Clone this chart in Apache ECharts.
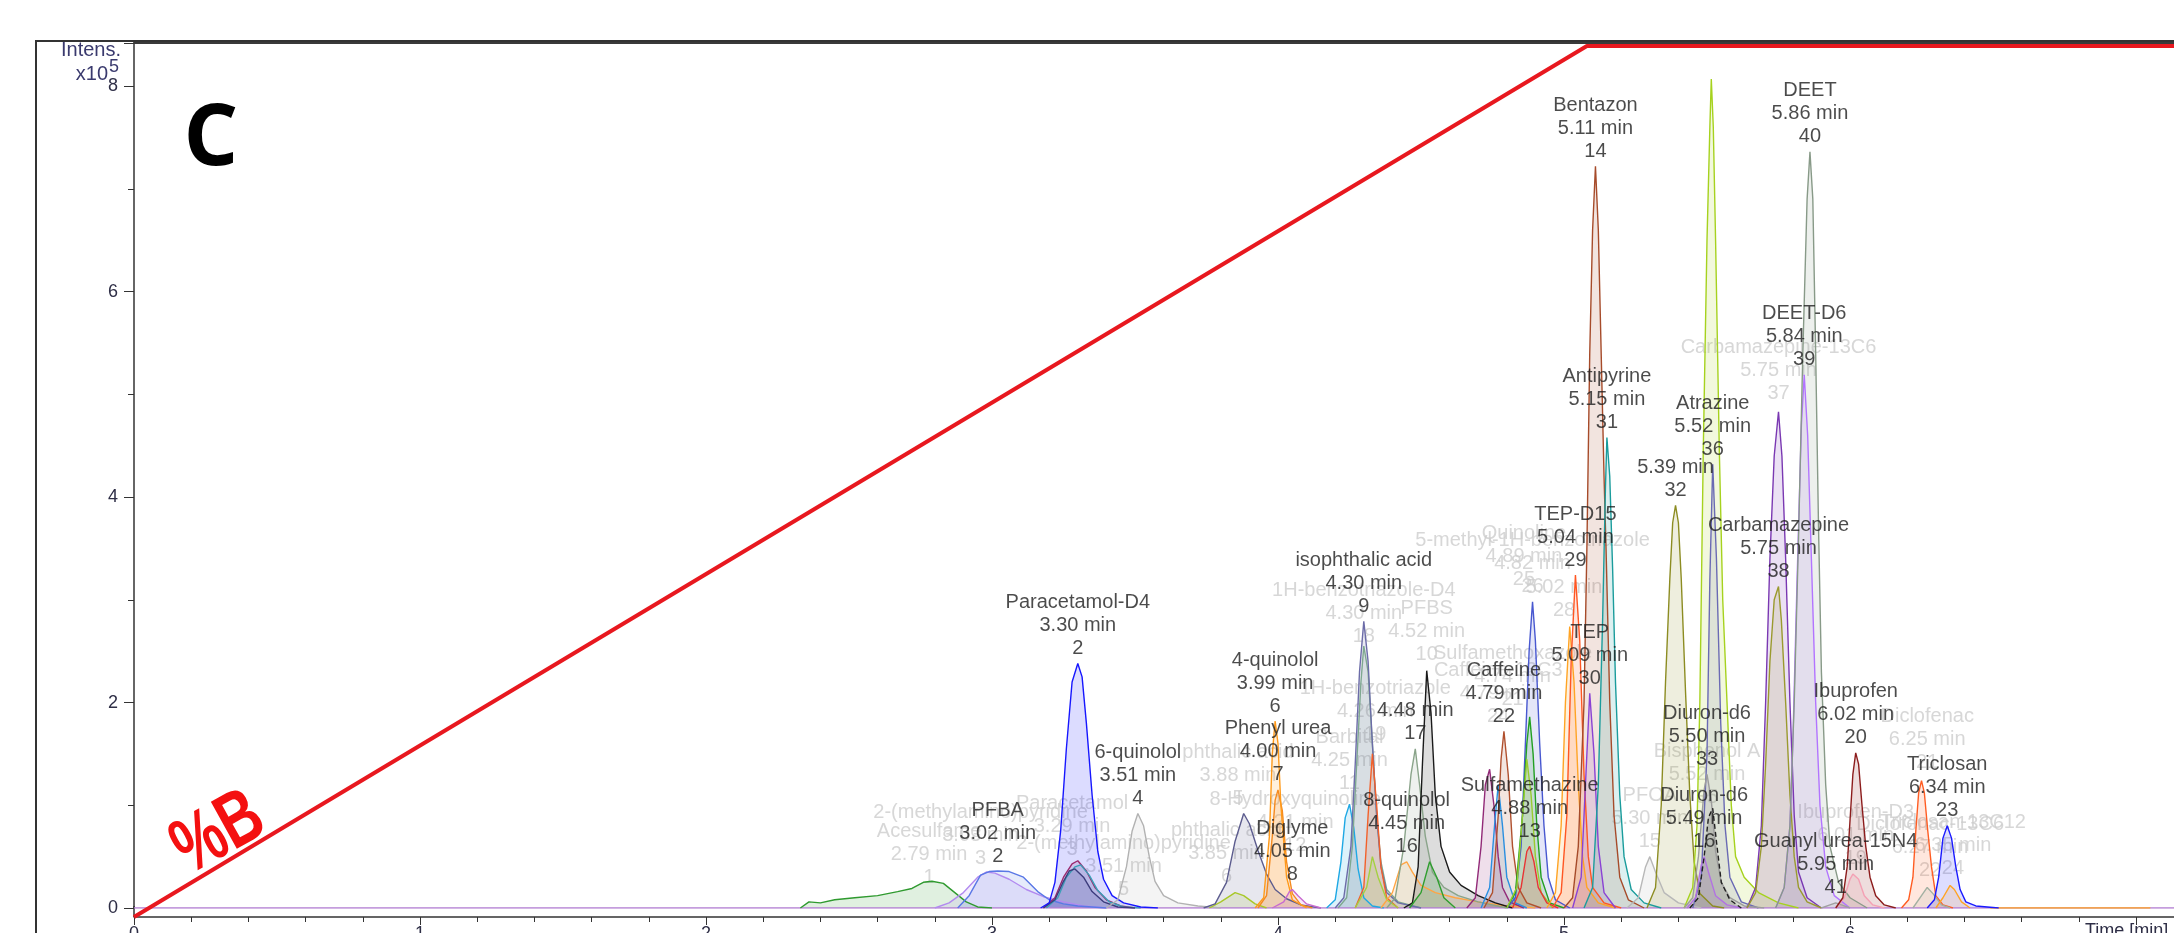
<!DOCTYPE html>
<html>
<head>
<meta charset="utf-8">
<script src="https://cdn.jsdelivr.net/npm/echarts@6.0.0/dist/echarts.min.js"></script>
<style>
  html, body { margin: 0; padding: 0; background: #fff; }
  #chart { width: 2174px; height: 933px; }
</style>
</head>
<body>
<div id="chart"></div>
<script>
// Extracted ion chromatograms, points are [retention time (min), intensity (x10^5)]
const acesulfame = [[2.33,0],[2.36,0.06],[2.40,0.05],[2.45,0.08],[2.52,0.10],[2.60,0.12],[2.67,0.16],[2.72,0.19],[2.76,0.25],[2.79,0.26],[2.83,0.24],[2.87,0.15],[2.91,0.06],[2.95,0.01],[3.00,0]];
const trace298 = [[2.80,0],[2.85,0.05],[2.90,0.15],[2.95,0.30],[2.98,0.35],[3.01,0.34],[3.06,0.28],[3.12,0.18],[3.18,0.11],[3.25,0.06],[3.32,0.02],[3.40,0]];
const pfba = [[2.88,0],[2.92,0.12],[2.96,0.32],[2.99,0.355],[3.02,0.36],[3.06,0.355],[3.11,0.30],[3.16,0.16],[3.20,0.08],[3.25,0.04],[3.30,0.02],[3.40,0]];
const trace330a = [[3.18,0],[3.22,0.10],[3.25,0.30],[3.28,0.43],[3.30,0.46],[3.33,0.36],[3.36,0.20],[3.40,0.08],[3.45,0.02],[3.50,0]];
const trace331 = [[3.19,0],[3.23,0.10],[3.26,0.30],[3.29,0.40],[3.31,0.42],[3.34,0.32],[3.37,0.17],[3.41,0.06],[3.46,0.01],[3.52,0]];
const trace329 = [[3.18,0],[3.22,0.08],[3.25,0.26],[3.27,0.36],[3.29,0.38],[3.32,0.30],[3.35,0.16],[3.39,0.06],[3.44,0.01],[3.50,0]];
const paracetamolD4 = [[3.17,0],[3.20,0.05],[3.22,0.25],[3.24,0.75],[3.26,1.55],[3.28,2.20],[3.30,2.38],[3.315,2.25],[3.33,1.80],[3.35,1.10],[3.37,0.55],[3.39,0.28],[3.42,0.12],[3.46,0.05],[3.52,0.01],[3.58,0]];
const quinolol6 = [[3.40,0],[3.44,0.08],[3.47,0.40],[3.49,0.75],[3.51,0.92],[3.53,0.80],[3.55,0.50],[3.57,0.26],[3.60,0.12],[3.65,0.05],[3.72,0.02],[3.80,0]];
const trace385 = [[3.76,0],[3.80,0.06],[3.85,0.15],[3.88,0.12],[3.92,0.04],[3.96,0]];
const phthalic = [[3.74,0],[3.78,0.04],[3.82,0.25],[3.85,0.65],[3.88,0.92],[3.90,0.82],[3.93,0.56],[3.96,0.33],[3.99,0.18],[4.03,0.09],[4.08,0.03],[4.15,0]];
const phenylUrea = [[3.93,0],[3.96,0.12],[3.98,0.70],[3.99,1.05],[4.00,1.15],[4.015,0.95],[4.03,0.45],[4.05,0.14],[4.08,0.03],[4.12,0]];
const quinolol4 = [[3.92,0],[3.95,0.10],[3.97,0.70],[3.98,1.50],[3.99,1.82],[4.00,1.60],[4.01,1.00],[4.03,0.30],[4.05,0.08],[4.10,0]];
const diglyme = [[3.98,0],[4.02,0.06],[4.04,0.16],[4.05,0.18],[4.07,0.12],[4.10,0.04],[4.15,0]];
const barbital = [[4.17,0],[4.20,0.08],[4.22,0.45],[4.235,0.88],[4.25,1.01],[4.265,0.78],[4.28,0.38],[4.30,0.10],[4.33,0.02],[4.37,0]];
const benzotriazoleD4 = [[4.21,0],[4.24,0.10],[4.26,0.60],[4.275,1.40],[4.29,2.20],[4.30,2.55],[4.315,2.30],[4.33,1.60],[4.345,0.90],[4.36,0.45],[4.38,0.18],[4.42,0.06],[4.50,0]];
const isophthalic = [[4.20,0],[4.23,0.10],[4.255,0.60],[4.27,1.40],[4.285,2.30],[4.30,2.79],[4.315,2.40],[4.33,1.60],[4.345,0.90],[4.36,0.40],[4.38,0.15],[4.42,0.05],[4.50,0]];
const trace433a = [[4.27,0],[4.30,0.20],[4.315,0.90],[4.33,1.50],[4.345,1.00],[4.36,0.40],[4.38,0.10],[4.42,0]];
const trace433b = [[4.27,0],[4.31,0.20],[4.33,0.50],[4.35,0.30],[4.38,0.08],[4.42,0]];
const quinolol8 = [[4.36,0],[4.40,0.15],[4.43,0.42],[4.45,0.45],[4.47,0.35],[4.50,0.22],[4.55,0.15],[4.62,0.10],[4.70,0.06],[4.80,0.02],[4.90,0]];
const peak17 = [[4.38,0],[4.41,0.10],[4.44,0.60],[4.465,1.30],[4.48,1.55],[4.495,1.20],[4.515,0.70],[4.54,0.35],[4.58,0.20],[4.63,0.12],[4.70,0.06],[4.80,0]];
const pfbs = [[4.44,0],[4.47,0.05],[4.49,0.40],[4.505,1.40],[4.52,2.31],[4.535,1.90],[4.55,1.10],[4.57,0.60],[4.60,0.35],[4.64,0.22],[4.70,0.12],[4.76,0.05],[4.82,0]];
const trace453 = [[4.46,0],[4.50,0.15],[4.53,0.45],[4.555,0.30],[4.58,0.10],[4.62,0]];
const trace474 = [[4.66,0],[4.69,0.10],[4.71,0.60],[4.725,1.20],[4.74,1.35],[4.755,1.00],[4.77,0.50],[4.785,0.20],[4.81,0.06],[4.86,0]];
const trace477 = [[4.71,0],[4.74,0.20],[4.76,0.90],[4.77,1.20],[4.785,0.80],[4.80,0.30],[4.83,0.05],[4.87,0]];
const caffeine = [[4.72,0],[4.75,0.15],[4.77,0.90],[4.78,1.45],[4.79,1.72],[4.805,1.30],[4.82,0.60],[4.84,0.20],[4.87,0.05],[4.92,0]];
const methylBenzotriazole = [[4.80,0],[4.83,0.10],[4.85,0.60],[4.865,1.60],[4.878,2.50],[4.89,2.98],[4.90,2.60],[4.915,1.60],[4.93,0.80],[4.945,0.30],[4.97,0.08],[5.02,0]];
const trace488 = [[4.80,0],[4.83,0.15],[4.855,0.90],[4.87,1.60],[4.88,1.86],[4.892,1.50],[4.905,0.80],[4.92,0.30],[4.95,0.05],[5.00,0]];
const trace487 = [[4.80,0],[4.835,0.20],[4.855,0.90],[4.87,1.45],[4.885,1.10],[4.90,0.50],[4.92,0.15],[4.96,0]];
const sulfamethazine = [[4.82,0],[4.85,0.20],[4.87,0.55],[4.88,0.60],[4.895,0.45],[4.91,0.20],[4.94,0.05],[4.98,0]];
const peak28 = [[4.94,0],[4.97,0.15],[4.99,0.80],[5.005,2.00],[5.02,2.74],[5.035,2.20],[5.05,1.20],[5.065,0.50],[5.08,0.20],[5.12,0.05],[5.18,0]];
const tepD15 = [[4.96,0],[4.99,0.15],[5.01,0.90],[5.025,2.40],[5.04,3.24],[5.055,2.60],[5.07,1.30],[5.085,0.50],[5.10,0.20],[5.14,0.05],[5.20,0]];
const tep = [[5.03,0],[5.06,0.30],[5.075,1.20],[5.09,2.09],[5.105,1.50],[5.12,0.60],[5.14,0.15],[5.18,0]];
const bentazon = [[5.00,0],[5.03,0.10],[5.05,0.60],[5.07,2.00],[5.08,3.50],[5.09,5.40],[5.10,6.60],[5.11,7.22],[5.12,6.60],[5.13,5.40],[5.14,4.20],[5.147,3.50],[5.16,2.00],[5.175,0.90],[5.195,0.30],[5.225,0.08],[5.28,0]];
const antipyrine = [[5.07,0],[5.10,0.20],[5.12,1.20],[5.135,2.80],[5.145,4.10],[5.15,4.58],[5.16,4.20],[5.17,3.30],[5.18,2.20],[5.195,1.10],[5.21,0.50],[5.235,0.18],[5.28,0.05],[5.34,0]];
const pfoa = [[5.22,0],[5.26,0.10],[5.285,0.40],[5.30,0.50],[5.32,0.35],[5.35,0.15],[5.40,0.05],[5.48,0]];
const peak32 = [[5.29,0],[5.32,0.20],[5.34,1.00],[5.355,2.20],[5.37,3.20],[5.38,3.75],[5.39,3.92],[5.40,3.75],[5.41,3.20],[5.425,2.10],[5.44,1.10],[5.455,0.45],[5.475,0.14],[5.52,0.02],[5.56,0]];
const trace552 = [[5.42,0],[5.45,0.20],[5.465,0.80],[5.475,2.00],[5.487,4.46],[5.50,6.50],[5.51,7.60],[5.515,8.07],[5.522,7.60],[5.53,6.50],[5.543,4.46],[5.555,3.00],[5.57,2.00],[5.585,1.00],[5.60,0.50],[5.63,0.30],[5.68,0.15],[5.75,0.05],[5.82,0]];
const atrazine = [[5.45,0],[5.48,0.30],[5.50,1.50],[5.51,3.20],[5.52,4.32],[5.533,3.40],[5.548,1.80],[5.563,0.80],[5.58,0.30],[5.62,0.06],[5.68,0]];
const diuronD6a = [[5.42,0],[5.45,0.10],[5.47,0.50],[5.49,1.15],[5.50,1.30],[5.515,1.05],[5.53,0.55],[5.55,0.25],[5.58,0.10],[5.63,0.02],[5.70,0]];
const diuronD6b = [[5.43,0],[5.46,0.10],[5.48,0.42],[5.49,0.50],[5.505,0.35],[5.53,0.12],[5.57,0.03],[5.62,0]];
const bisphenolA = [[5.44,0],[5.47,0.10],[5.49,0.50],[5.505,0.88],[5.52,0.97],[5.535,0.60],[5.55,0.25],[5.58,0.08],[5.62,0]];
const carbamazepine13C6 = [[5.64,0],[5.67,0.20],[5.69,0.80],[5.705,2.00],[5.72,3.40],[5.735,4.40],[5.75,4.83],[5.762,4.40],[5.775,3.40],[5.79,2.00],[5.805,0.90],[5.82,0.35],[5.85,0.10],[5.90,0]];
const carbamazepine = [[5.64,0],[5.67,0.15],[5.69,0.60],[5.705,1.40],[5.72,2.40],[5.735,3.00],[5.75,3.13],[5.76,2.80],[5.775,2.00],[5.79,1.10],[5.805,0.50],[5.82,0.20],[5.85,0.06],[5.90,0]];
const deetD6 = [[5.74,0],[5.77,0.20],[5.79,0.80],[5.80,1.60],[5.815,3.20],[5.83,4.70],[5.84,5.19],[5.852,4.60],[5.865,3.40],[5.88,2.00],[5.895,1.00],[5.915,0.40],[5.945,0.12],[6.00,0]];
const deet = [[5.74,0],[5.77,0.20],[5.79,0.80],[5.805,2.00],[5.82,3.60],[5.835,5.40],[5.85,6.90],[5.86,7.36],[5.87,6.90],[5.88,5.40],[5.89,3.70],[5.90,2.30],[5.915,1.20],[5.93,0.60],[5.96,0.25],[6.00,0.10],[6.06,0]];
const guanylUrea = [[5.90,0],[5.93,0.03],[5.95,0.05],[5.97,0.03],[6.00,0]];
const ibuprofenD3 = [[5.95,0],[5.98,0.10],[6.00,0.28],[6.01,0.33],[6.03,0.28],[6.05,0.12],[6.08,0.03],[6.12,0]];
const ibuprofen = [[5.95,0],[5.975,0.10],[5.99,0.40],[6.00,0.85],[6.01,1.30],[6.02,1.51],[6.03,1.40],[6.042,1.00],[6.055,0.60],[6.07,0.30],[6.09,0.12],[6.12,0.03],[6.16,0]];
const diclofenac = [[6.18,0],[6.205,0.08],[6.22,0.30],[6.23,0.75],[6.24,1.12],[6.25,1.24],[6.26,1.12],[6.272,0.75],[6.285,0.40],[6.30,0.12],[6.325,0.03],[6.36,0]];
const diclofenac13C6 = [[6.22,0],[6.25,0.12],[6.27,0.20],[6.29,0.14],[6.32,0.03],[6.35,0]];
const triclosan = [[6.27,0],[6.295,0.08],[6.31,0.30],[6.325,0.68],[6.34,0.80],[6.355,0.68],[6.37,0.40],[6.385,0.18],[6.405,0.06],[6.44,0.02],[6.52,0]];
const triclosan13C12 = [[6.30,0],[6.325,0.10],[6.35,0.22],[6.365,0.18],[6.39,0.06],[6.42,0]];

// Flat parts of the traces along the time axis
const baseline = [[0,0],[7.2,0]];
const baselineTail = [[6.49,0],[7.05,0]];

// Solvent gradient, %B against time (min)
const gradientB = [[0,0],[5.08,100],[7.2,100]];

// Axis tick labels (the one at 7 min sits under the axis title)
const yTicks = [0, 2, 4, 6, 8];
const xTicks = [0, 1, 2, 3, 4, 5, 6];

// Drawing order of the traces and their colours
const traceOrder = [acesulfame, trace298, pfba, trace330a, trace331, trace329, paracetamolD4, quinolol6,
  trace385, phthalic, phenylUrea, quinolol4, diglyme, barbital, benzotriazoleD4, isophthalic, trace433a,
  trace433b, quinolol8, peak17, pfbs, trace453, trace474, trace477, caffeine, methylBenzotriazole, trace488,
  trace487, sulfamethazine, peak28, tepD15, tep, bentazon, antipyrine, pfoa, peak32, trace552, atrazine,
  diuronD6a, diuronD6b, bisphenolA, carbamazepine13C6, carbamazepine, deetD6, deet, guanylUrea,
  ibuprofenD3, ibuprofen, diclofenac, diclofenac13C6, triclosan, triclosan13C12];
const traceColors = ['#2f9a2f', '#b28af0', '#5a78e6', '#9a2a6e', '#3aa0b8', '#3c3c7c', '#1616ff', '#b2b2b2',
  '#a8c828', '#5c5c8e', '#f58a1f', '#ff9a1a', '#c86ad0', '#1ea8e4', '#7ea890', '#6c6ca8', '#f2602a',
  '#a4d040', '#ffa544', '#8aa48a', '#1a1a1a', '#2e9e2e', '#922a78', '#2a8fe0', '#b0502e', '#4858d0', '#22a022',
  '#98cc30', '#e83434', '#ffa424', '#ff5622', '#8a42d4', '#a64b2a', '#1a9c9c', '#b8b8b8', '#8c8c22', '#a6d21e', '#6a6ab4',
  '#9c9c9c', '#b272e2', '#222222', '#7a38b2', '#9a9a2e', '#b274ff', '#889a88', '#a0a0a0',
  '#f4a0b4', '#8c1c1c', '#ff5c22', '#a2b0a2', '#1a1aff', '#ffa424'];
const dashedTraces = [bisphenolA];

// Peak annotations placed on the apex of their trace
const peakLabels = [
  [pfba, 'PFBA\n3.02 min\n2'],
  [paracetamolD4, 'Paracetamol-D4\n3.30 min\n2'],
  [quinolol6, '6-quinolol\n3.51 min\n4'],
  [quinolol4, '4-quinolol\n3.99 min\n6'],
  [phenylUrea, 'Phenyl urea\n4.00 min\n7'],
  [diglyme, 'Diglyme\n4.05 min\n8'],
  [isophthalic, 'isophthalic acid\n4.30 min\n9'],
  [peak17, '4.48 min\n17'],
  [quinolol8, '8-quinolol\n4.45 min\n16'],
  [caffeine, 'Caffeine\n4.79 min\n22'],
  [sulfamethazine, 'Sulfamethazine\n4.88 min\n13'],
  [tepD15, 'TEP-D15\n5.04 min\n29'],
  [tep, 'TEP\n5.09 min\n30'],
  [bentazon, 'Bentazon\n5.11 min\n14'],
  [antipyrine, 'Antipyrine\n5.15 min\n31'],
  [peak32, '5.39 min\n32'],
  [atrazine, 'Atrazine\n5.52 min\n36'],
  [diuronD6a, 'Diuron-d6\n5.50 min\n33'],
  [diuronD6b, 'Diuron-d6\n5.49 min\n16'],
  [carbamazepine, 'Carbamazepine\n5.75 min\n38'],
  [deetD6, 'DEET-D6\n5.84 min\n39'],
  [deet, 'DEET\n5.86 min\n40'],
  [guanylUrea, 'Guanyl urea-15N4\n5.95 min\n41'],
  [ibuprofen, 'Ibuprofen\n6.02 min\n20'],
  [triclosan, 'Triclosan\n6.34 min\n23']
];

// Faded annotations of the hidden compounds: [time, intensity under the text, text]
const ghostLabels = [
  [2.78, 0.15, 'Acesulfame\n2.79 min\n1'],
  [2.96, 0.34, '2-(methylamino)pyridine\n3.03 min\n3'],
  [3.28, 0.42, 'Paracetamol\n3.29 min\n3'],
  [3.46, 0.03, '2-(methylamino)pyridine\n3.51 min\n5'],
  [3.86, 0.92, 'phthalic acid\n3.88 min\n5'],
  [3.82, 0.16, 'phthalic acid\n3.85 min\n6'],
  [4.06, 0.46, '8-Hydroxyquinoline\n4.21 min\n12'],
  [4.25, 1.07, 'Barbital\n4.25 min\n11'],
  [4.34, 1.54, '1H-benzotriazole\n4.26 min\n19'],
  [4.30, 2.50, '1H-benzotriazole-D4\n4.30 min\n18'],
  [4.52, 2.32, 'PFBS\n4.52 min\n10'],
  [4.82, 1.88, 'Sulfamethoxazole\n4.74 min\n21'],
  [4.77, 1.72, 'Caffeine-13C3\n4.79 min\n24'],
  [4.86, 3.05, 'Quinoline\n4.89 min\n25'],
  [4.89, 2.98, '5-methyl-1H-benzotriazole\n4.82 min\n26'],
  [5.00, 2.75, '5.02 min\n28'],
  [5.30, 0.50, 'PFOA\n5.30 min\n15'],
  [5.50, 0.93, 'Bisphenol A\n5.52 min\n35'],
  [5.75, 4.86, 'Carbamazepine-13C6\n5.75 min\n37'],
  [6.02, 0.34, 'Ibuprofen-D3\n6.01 min\n19'],
  [6.27, 1.27, 'Diclofenac\n6.25 min\n21'],
  [6.28, 0.22, 'Diclofenac-13C6\n6.27 min\n22'],
  [6.36, 0.24, 'Triclosan-13C12\n6.35 min\n24']
];

const FONT = '"Liberation Sans", Arial, sans-serif';
const apex = tr => tr.reduce((a, b) => (b[1] > a[1] ? b : a));

const series = [];

series.push({
  type: 'line', data: baseline, symbol: 'none', silent: true, z: 2,
  lineStyle: { color: '#b27ed2', width: 1.5 }
});
series.push({
  type: 'line', data: baselineTail, symbol: 'none', silent: true, z: 2,
  lineStyle: { color: '#ffa424', width: 1.5 }
});

traceOrder.forEach((tr, i) => {
  const c = traceColors[i];
  series.push({
    type: 'line', data: tr, symbol: 'none', silent: true, z: 2,
    lineStyle: { color: c, width: 1.4, type: dashedTraces.includes(tr) ? [5, 3] : 'solid' },
    areaStyle: { color: c, opacity: 0.15 }
  });
});

// %B gradient, on its own hidden percentage axis
series.push({
  type: 'line', data: gradientB, yAxisIndex: 1, symbol: 'none', silent: true, clip: false, z: 6,
  lineStyle: { color: '#e8181f', width: 4 }
});

// faded labels sit beneath the traces
series.push({
  type: 'scatter', z: 1, silent: true, symbolSize: 1,
  itemStyle: { color: 'rgba(0,0,0,0)' },
  data: ghostLabels.map(g => ({ value: [g[0], g[1]], label: { formatter: g[2] } })),
  label: {
    show: true, position: 'top', distance: 3, color: '#cdcdcd',
    fontSize: 20, lineHeight: 23, fontFamily: FONT, align: 'center'
  }
});

series.push({
  type: 'scatter', z: 4, silent: true, symbolSize: 1,
  itemStyle: { color: 'rgba(0,0,0,0)' },
  data: peakLabels.map(([tr, text]) => {
    const p = apex(tr);
    return { value: [p[0], p[1]], label: { formatter: text } };
  }),
  label: {
    show: true, position: 'top', distance: 3, color: '#1e1e1e',
    fontSize: 20, lineHeight: 23, fontFamily: FONT, align: 'center'
  }
});

const axisInk = '#333';
const labelInk = '#2e2e46';
const timeMax = 2040 / 286;   // time range that fits the plot width

const chart = echarts.init(document.getElementById('chart'), null, { renderer: 'canvas' });
chart.setOption({
  animation: false,
  backgroundColor: '#ffffff',
  grid: { left: 134, right: 0, top: 43, bottom: 25, outerBoundsMode: 'none', containLabel: false },
  xAxis: [{
    type: 'value', min: 0, max: timeMax, interval: 1, offset: 9,
    axisLine: { onZero: false, lineStyle: { color: axisInk, width: 1.5 } },
    axisTick: { length: 8, lineStyle: { color: axisInk } },
    minorTick: { show: true, splitNumber: 5, length: 5, lineStyle: { color: axisInk } },
    splitLine: { show: false },
    axisLabel: {
      margin: 8, fontSize: 18, color: labelInk, fontFamily: FONT,
      showMaxLabel: false,
      formatter: v => (xTicks.includes(v) ? String(v) : '')
    }
  }, {
    type: 'value', position: 'top', min: 0, max: timeMax,
    axisLine: { onZero: false, lineStyle: { color: '#3a3a3a', width: 2 } },
    axisTick: { show: false }, axisLabel: { show: false }, splitLine: { show: false }
  }],
  yAxis: [{
    type: 'value', min: 0, max: 8.42, interval: 2,
    axisLine: { show: true, onZero: false, lineStyle: { color: axisInk, width: 1.5 } },
    axisTick: { show: true, length: 10, lineStyle: { color: axisInk } },
    minorTick: { show: true, splitNumber: 2, length: 6, lineStyle: { color: axisInk } },
    splitLine: { show: false },
    axisLabel: {
      margin: 16, fontSize: 18, color: labelInk, fontFamily: FONT,
      formatter: v => (yTicks.includes(v) ? String(v) : '')
    }
  }, {
    type: 'value', show: false, min: 1.033, max: 100.344
  }],
  series: series,
  graphic: [
    { type: 'rect', silent: true, z: 0, shape: { x: 36, y: 41, width: 2400, height: 1200 },
      style: { fill: 'none', stroke: '#333', lineWidth: 2 } },
    { type: 'line', silent: true, shape: { x1: 134, y1: 906, x2: 134, y2: 917 },
      style: { stroke: axisInk, lineWidth: 1.5 } },
    { type: 'text', silent: true, x: 121, y: 50,
      style: { text: 'Intens.', font: '20px ' + FONT, fill: '#3a3a6e', align: 'right', verticalAlign: 'middle' } },
    { type: 'text', silent: true, x: 108, y: 74,
      style: { text: 'x10', font: '20px ' + FONT, fill: '#3a3a6e', align: 'right', verticalAlign: 'middle' } },
    { type: 'text', silent: true, x: 109, y: 67,
      style: { text: '5', font: '18px ' + FONT, fill: '#3a3a6e', align: 'left', verticalAlign: 'middle' } },
    { type: 'text', silent: true, x: 211, y: 140,
      style: { text: 'C', font: 'bold 86px "Open Sans", sans-serif', fill: '#000', align: 'center', verticalAlign: 'middle' } },
    { type: 'group', silent: true, x: 219, y: 834, rotation: 29 * Math.PI / 180,
      children: [{
        type: 'text', scaleX: 0.95, scaleY: 1.3,
        style: { text: '%B', font: 'bold 60px ' + FONT, fill: '#f41010', align: 'center', verticalAlign: 'middle' }
      }] },
    { type: 'text', silent: true, x: 2085, y: 922,
      style: { text: 'Time [min]', font: '18px ' + FONT, fill: labelInk, align: 'left', verticalAlign: 'top',
               backgroundColor: '#ffffff' } }
  ]
});
</script>
</body>
</html>
